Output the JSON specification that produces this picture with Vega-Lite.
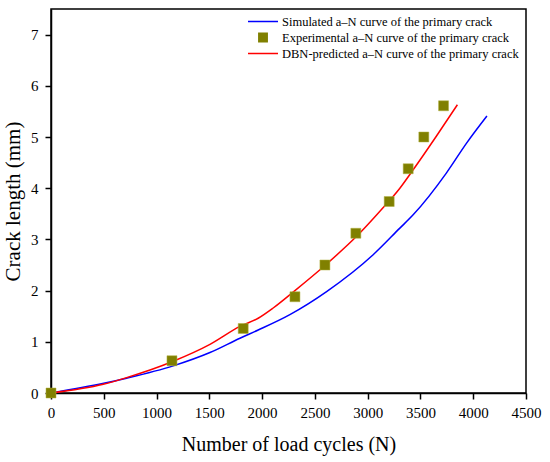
{
  "$schema": "https://vega.github.io/schema/vega-lite/v6.json",
  "width": 475,
  "height": 384,
  "autosize": {"type": "none"},
  "padding": {"left": 51, "top": 9, "right": 24, "bottom": 69},
  "background": "white",
  "config": {
    "view": {"stroke": "black", "strokeWidth": 1.5},
    "font": "Liberation Serif",
    "axis": {
      "grid": false,
      "domainColor": "black",
      "domainWidth": 1.5,
      "tickColor": "black",
      "tickWidth": 1.5,
      "tickSize": 6,
      "labelFont": "Liberation Serif",
      "labelFontSize": 15,
      "labelColor": "black",
      "titleFont": "Liberation Serif",
      "titleFontWeight": "normal",
      "titleColor": "black"
    }
  },
  "data": {
    "values": [
      {"series": "Simulated a–N curve of the primary crack", "N": 0, "a": 0},
      {"series": "Simulated a–N curve of the primary crack", "N": 500, "a": 0.19},
      {"series": "Simulated a–N curve of the primary crack", "N": 716, "a": 0.29},
      {"series": "Simulated a–N curve of the primary crack", "N": 1158, "a": 0.53},
      {"series": "Simulated a–N curve of the primary crack", "N": 1506, "a": 0.79},
      {"series": "Simulated a–N curve of the primary crack", "N": 1790, "a": 1.07},
      {"series": "Simulated a–N curve of the primary crack", "N": 1963, "a": 1.23},
      {"series": "Simulated a–N curve of the primary crack", "N": 2263, "a": 1.53},
      {"series": "Simulated a–N curve of the primary crack", "N": 2611, "a": 1.98},
      {"series": "Simulated a–N curve of the primary crack", "N": 3052, "a": 2.7},
      {"series": "Simulated a–N curve of the primary crack", "N": 3305, "a": 3.22},
      {"series": "Simulated a–N curve of the primary crack", "N": 3431, "a": 3.48},
      {"series": "Simulated a–N curve of the primary crack", "N": 3747, "a": 4.3},
      {"series": "Simulated a–N curve of the primary crack", "N": 3937, "a": 4.88},
      {"series": "Simulated a–N curve of the primary crack", "N": 4130, "a": 5.41},
      {"series": "DBN-predicted a–N curve of the primary crack", "N": 0, "a": 0},
      {"series": "DBN-predicted a–N curve of the primary crack", "N": 495, "a": 0.17},
      {"series": "DBN-predicted a–N curve of the primary crack", "N": 716, "a": 0.3},
      {"series": "DBN-predicted a–N curve of the primary crack", "N": 1158, "a": 0.62},
      {"series": "DBN-predicted a–N curve of the primary crack", "N": 1506, "a": 0.95},
      {"series": "DBN-predicted a–N curve of the primary crack", "N": 1790, "a": 1.3},
      {"series": "DBN-predicted a–N curve of the primary crack", "N": 1963, "a": 1.46},
      {"series": "DBN-predicted a–N curve of the primary crack", "N": 2105, "a": 1.66},
      {"series": "DBN-predicted a–N curve of the primary crack", "N": 2311, "a": 2.0},
      {"series": "DBN-predicted a–N curve of the primary crack", "N": 2595, "a": 2.49},
      {"series": "DBN-predicted a–N curve of the primary crack", "N": 2895, "a": 3.06},
      {"series": "DBN-predicted a–N curve of the primary crack", "N": 3116, "a": 3.55},
      {"series": "DBN-predicted a–N curve of the primary crack", "N": 3305, "a": 4.0},
      {"series": "DBN-predicted a–N curve of the primary crack", "N": 3431, "a": 4.36},
      {"series": "DBN-predicted a–N curve of the primary crack", "N": 3652, "a": 5.02},
      {"series": "DBN-predicted a–N curve of the primary crack", "N": 3850, "a": 5.63},
      {"series": "Experimental a–N curve of the primary crack", "N": 0, "a": 0},
      {"series": "Experimental a–N curve of the primary crack", "N": 1146, "a": 0.63},
      {"series": "Experimental a–N curve of the primary crack", "N": 1821, "a": 1.26},
      {"series": "Experimental a–N curve of the primary crack", "N": 2311, "a": 1.88},
      {"series": "Experimental a–N curve of the primary crack", "N": 2595, "a": 2.5},
      {"series": "Experimental a–N curve of the primary crack", "N": 2888, "a": 3.12},
      {"series": "Experimental a–N curve of the primary crack", "N": 3204, "a": 3.74},
      {"series": "Experimental a–N curve of the primary crack", "N": 3384, "a": 4.38},
      {"series": "Experimental a–N curve of the primary crack", "N": 3532, "a": 5.0},
      {"series": "Experimental a–N curve of the primary crack", "N": 3719, "a": 5.61}
    ]
  },
  "encoding": {
    "x": {
      "field": "N", "type": "quantitative",
      "scale": {"domain": [0, 4500], "nice": false},
      "axis": {"values": [0, 500, 1000, 1500, 2000, 2500, 3000, 3500, 4000, 4500], "format": "d", "title": "Number of load cycles (N)", "titleFontSize": 20, "labelPadding": 6, "titlePadding": 14, "labelFlush": false}
    },
    "y": {
      "field": "a", "type": "quantitative",
      "scale": {"domain": [0, 7.5], "nice": false},
      "axis": {"values": [0, 1, 2, 3, 4, 5, 6, 7], "format": "d", "title": "Crack length (mm)", "titleFontSize": 21, "labelPadding": 7, "titlePadding": 7, "labelFlush": false}
    },
    "color": {
      "field": "series", "type": "nominal",
      "scale": {
        "domain": ["Simulated a–N curve of the primary crack", "Experimental a–N curve of the primary crack", "DBN-predicted a–N curve of the primary crack"],
        "range": ["#0000ff", "#808000", "#ff0000"]
      },
      "legend": {
        "title": null,
        "orient": "none",
        "legendX": 196,
        "legendY": 6,
        "symbolType": "stroke",
        "symbolSize": 900,
        "symbolStrokeWidth": 1.5,
        "clipHeight": 13,
        "labelFont": "Liberation Serif",
        "labelFontSize": 12.5,
        "labelColor": "black",
        "labelOffset": 3,
        "rowPadding": 3,
        "labelLimit": 400,
        "encode": {
          "symbols": {
            "update": {
              "shape": {"signal": "datum.index === 1 ? 'square' : 'stroke'"},
              "size": {"signal": "datum.index === 1 ? 70 : 900"},
              "fill": {"signal": "datum.index === 1 ? '#808000' : 'transparent'"},
              "stroke": {"signal": "datum.index === 1 ? 'transparent' : datum.index === 0 ? '#0000ff' : '#ff0000'"},
              "strokeWidth": {"value": 1.5}
            }
          }
        }
      }
    }
  },
  "layer": [
    {
      "transform": [{"filter": "datum.series !== 'Experimental a–N curve of the primary crack'"}],
      "mark": {"type": "line", "strokeWidth": 1.5, "interpolate": "monotone"}
    },
    {
      "transform": [{"filter": "datum.series === 'Experimental a–N curve of the primary crack'"}],
      "mark": {"type": "point", "shape": "square", "filled": true, "size": 100, "opacity": 1, "stroke": "#b0b040", "strokeWidth": 0.5}
    }
  ]
}
